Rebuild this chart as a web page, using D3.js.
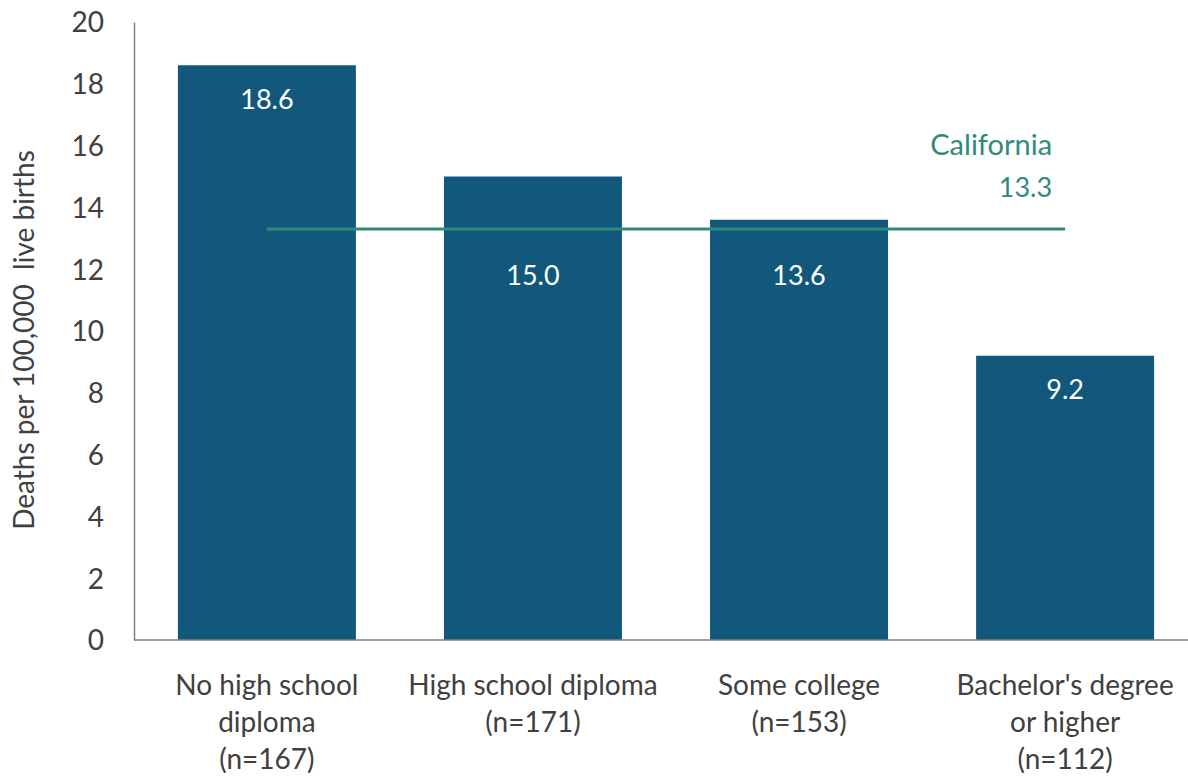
<!DOCTYPE html>
<html><head><meta charset="utf-8">
<script src="https://cdn.jsdelivr.net/npm/d3@7/dist/d3.min.js"></script>
<style>body{margin:0;background:#fff}svg{display:block}text{font-family:Lato,"Open Sans",sans-serif}</style>
</head><body>
<script>
const categories = [["No high school","diploma","(n=167)"],["High school diploma","(n=171)"],["Some college","(n=153)"],["Bachelor's degree","or higher","(n=112)"]];
const values = [18.6, 15.0, 13.6, 9.2];
const californiaRate = 13.3;
const yTicks = [0,2,4,6,8,10,12,14,16,18,20];

const W=1188,H=777;
const m={left:134,right:1198,top:22,bottom:640};
const svg=d3.select("body").append("svg").attr("width",W).attr("height",H);
const x=d3.scaleBand().domain(d3.range(values.length)).range([m.left,m.right]).paddingInner(0.331).paddingOuter(0.165);
const y=d3.scaleLinear().domain([0,20]).range([m.bottom,m.top]);

svg.selectAll("rect.bar").data(values).join("rect")
 .attr("x",(d,i)=>x(i)).attr("width",x.bandwidth())
 .attr("y",d=>y(d)).attr("height",d=>y(0)-y(d)).attr("fill","#12587d");

// axes
const ya=d3.axisLeft(y).tickValues(yTicks).tickSize(0).tickPadding(30).tickFormat(d3.format("d"));
const yg=svg.append("g").attr("transform",`translate(${m.left},0)`).call(ya);
yg.select(".domain").attr("stroke","#808080").attr("stroke-width",1.5);
yg.selectAll("text").attr("font-size",28).attr("fill","#404040").attr("dy","0.35em");

svg.append("line").attr("x1",m.left).attr("x2",m.right).attr("y1",y(0)).attr("y2",y(0)).attr("stroke","#808080").attr("stroke-width",1.5);

// category labels
categories.forEach((lines,i)=>{
  const t=svg.append("text").attr("x",x(i)+x.bandwidth()/2).attr("y",y(0)+55).attr("text-anchor","middle").attr("font-size",28).attr("fill","#404040");
  lines.forEach((l,j)=>t.append("tspan").attr("x",x(i)+x.bandwidth()/2).attr("dy",j?37:0).text(l));
});

// California line
const lineX1=x(0)+x.bandwidth()/2, lineX2=x(3)+x.bandwidth()/2;
svg.append("line").attr("x1",lineX1).attr("x2",lineX2).attr("y1",y(californiaRate)).attr("y2",y(californiaRate)).attr("stroke","#2e8b7a").attr("stroke-width",3);
svg.append("text").attr("x",lineX2-13).attr("y",y(californiaRate)-74).attr("text-anchor","end").attr("font-size",29).attr("fill","#2e8b7a").text("California");
svg.append("text").attr("x",lineX2-13).attr("y",y(californiaRate)-32).attr("text-anchor","end").attr("font-size",27).attr("fill","#2e8b7a").text(d3.format(".1f")(californiaRate));

// value labels
svg.selectAll("text.val").data(values).join("text")
 .attr("x",(d,i)=>x(i)+x.bandwidth()/2)
 .attr("y",d=>{let c=y(d)+34; if(Math.abs(c-y(californiaRate))<30) c=y(californiaRate)+47; return c;})
 .attr("dy","0.35em").attr("text-anchor","middle").attr("font-size",27).attr("fill","#fff")
 .text(d=>d3.format(".1f")(d));

// y label
svg.append("text").attr("transform",`translate(34,${(m.top+m.bottom)/2+9}) rotate(-90)`).attr("text-anchor","middle").attr("font-size",28).attr("fill","#404040").attr("xml:space","preserve").text("Deaths per 100,000  live births");
</script>
</body></html>
